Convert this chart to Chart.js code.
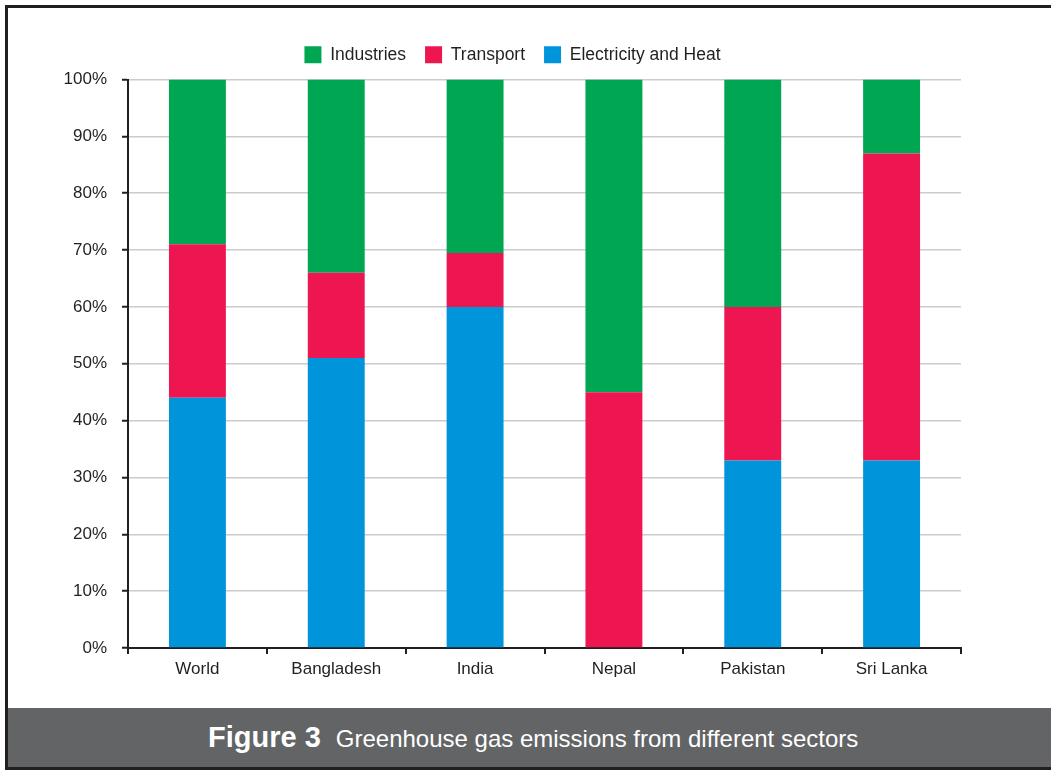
<!DOCTYPE html>
<html>
<head>
<meta charset="utf-8">
<script src="https://cdn.jsdelivr.net/npm/chart.js@4"></script>
<style>
  html, body { margin: 0; padding: 0; background: #fff; }
  body { width: 1051px; height: 770px; overflow: hidden; position: relative; }
  .frame {
    position: absolute; left: 5px; top: 5px;
    width: 1060px; height: 759px;
    border: 3px solid #231f20;
  }
  .plot { position: absolute; left: 0; top: 0; width: 1043px; height: 700px; }
  .caption {
    position: absolute; left: 0; top: 700px; width: 100%; height: 59px;
    background: #636466; color: #fff;
    font-family: "Liberation Sans", Arial, sans-serif;
    font-size: 24px; line-height: 59px; padding-left: 200px; box-sizing: border-box;
    white-space: nowrap;
  }
  .caption b { font-size: 29px; margin-right: 15px; }
</style>
</head>
<body>
<div class="frame">
  <div class="plot"><canvas id="sectorChart"></canvas></div>
  <div class="caption"><b>Figure 3</b>Greenhouse gas emissions from different sectors</div>
</div>
<script>
// share of emissions by sector, percent
const countries = ['World', 'Bangladesh', 'India', 'Nepal', 'Pakistan', 'Sri Lanka'];
const electricityHeat = [44, 51, 60, 0, 33, 33];
const transport = [27, 15, 9.5, 45, 27, 54];
const industries = [29, 34, 30.5, 55, 40, 13];
const yTicks = [0, 10, 20, 30, 40, 50, 60, 70, 80, 90, 100];

const ink = '#231f20';
const font = "'Liberation Sans', Arial, sans-serif";

// a bit of extra room between the legend and the plot
const legendGap = {
    id: 'legendGap',
    beforeLayout(chart) {
        const legend = chart.legend;
        if (!legend || legend._gapAdded) return;
        const fit = legend.fit;
        legend.fit = function () {
            fit.call(this);
            this.height += 6;
        };
        legend._gapAdded = true;
    }
};

const ctx = document.getElementById('sectorChart').getContext('2d');
const sectorChart = new Chart(ctx, {
    type: 'bar',
    data: {
        labels: countries,
        datasets: [
            { label: 'Electricity and Heat', data: electricityHeat, backgroundColor: '#0095da' },
            { label: 'Transport', data: transport, backgroundColor: '#ed1651' },
            { label: 'Industries', data: industries, backgroundColor: '#00a651' }
        ]
    },
    options: {
        responsive: true,
        maintainAspectRatio: false,
        animation: false,
        layout: { padding: { top: 19, left: 56, right: 90, bottom: 0 } },
        datasets: {
            bar: { categoryPercentage: 1, barPercentage: 0.41, borderWidth: 0 }
        },
        plugins: {
            tooltip: { enabled: false },
            legend: {
                position: 'top',
                reverse: true,
                labels: {
                    boxWidth: 17,
                    boxHeight: 17,
                    padding: 19,
                    color: ink,
                    font: { family: font, size: 17.5 }
                }
            }
        },
        scales: {
            x: {
                stacked: true,
                afterFit: scale => { scale.height = 60; },
                grid: { drawOnChartArea: false, drawTicks: true, tickLength: 6, color: ink, lineWidth: 2 },
                border: { color: ink, width: 2 },
                ticks: { color: ink, padding: 5, font: { family: font, size: 17 } }
            },
            y: {
                stacked: true,
                min: 0,
                max: 100,
                afterFit: scale => { scale.width = 64; },
                afterBuildTicks: scale => { scale.ticks = yTicks.map(v => ({ value: v })); },
                grid: { color: '#cccccc', lineWidth: 1.5, tickLength: 6, tickColor: ink, tickWidth: 2 },
                border: { color: ink, width: 2 },
                ticks: {
                    color: ink,
                    padding: 15,
                    font: { family: font, size: 17 },
                    callback: v => v + '%'
                }
            }
        }
    },
    plugins: [legendGap]
});
</script>
</body>
</html>
